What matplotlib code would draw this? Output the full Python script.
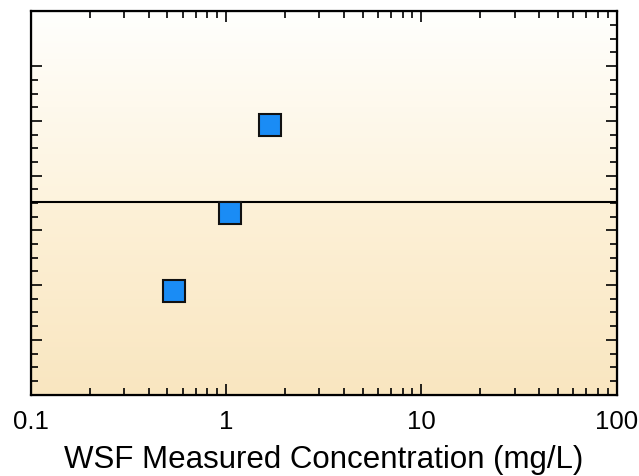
import numpy as np
import matplotlib.pyplot as plt
from matplotlib.colors import LinearSegmentedColormap

plt.rcParams['font.family'] = ['Liberation Sans', 'DejaVu Sans']

# data (y has no labels, so plain units of major ticks)
conc = [0.54, 1.04, 1.68]
resp = [1.90, 3.31, 4.93]
ref_line = 3.52
xlim = (0.1, 100)
ylim = (0, 7)
xtick_vals = [0.1, 1, 10, 100]
xtick_labels = ['0.1', '1', '10', '100']

fig = plt.figure(figsize=(6.39, 4.76), dpi=100)
ax = fig.add_axes([0.0485, 0.171, 0.9165, 0.805])
ax.set_xscale('log')
ax.set_xlim(*xlim)
ax.set_ylim(*ylim)

# background gradients, split at the reference line
frac = (ref_line - ylim[0]) / (ylim[1] - ylim[0])
top_cmap = LinearSegmentedColormap.from_list('top', ['#fdf3dd', '#fffffd'])
bot_cmap = LinearSegmentedColormap.from_list('bot', ['#f9e6c0', '#fdf1d8'])
grad = np.linspace(0, 1, 256).reshape(-1, 1)
ax.imshow(grad, cmap=top_cmap, aspect='auto', origin='lower',
          extent=[0, 1, frac, 1], transform=ax.transAxes, zorder=0)
ax.imshow(grad, cmap=bot_cmap, aspect='auto', origin='lower',
          extent=[0, 1, 0, frac], transform=ax.transAxes, zorder=0)

ax.axhline(ref_line, color='black', lw=1.5, zorder=2)
ax.plot(conc, resp, linestyle='none', marker='s', markersize=15.5,
        markerfacecolor='#1a8cf5', markeredgecolor='#111111',
        markeredgewidth=1.5, zorder=3)

for s in ax.spines.values():
    s.set_linewidth(1.6)

ax.set_xticks(xtick_vals)
ax.set_xticklabels(xtick_labels)
ax.tick_params(axis='x', which='major', direction='in', length=8, width=1.2,
               top=True, labelsize=18.5, pad=11)
ax.tick_params(axis='x', which='minor', direction='in', length=5, width=1.2,
               top=True)

# left y ticks stop at 6, right side goes all the way
ax.set_yticks(np.arange(0, 7, 1))
ax.set_yticks(np.arange(0, 6.01, 0.25), minor=True)
ax.tick_params(axis='y', which='major', direction='in', length=8, width=1.2,
               labelleft=False)
ax.tick_params(axis='y', which='minor', direction='in', length=5, width=1.2)

ax2 = ax.twinx()
ax2.set_ylim(*ylim)
ax2.set_yticks(np.arange(0, 7, 1))
ax2.set_yticks(np.arange(0, 7.01, 0.25), minor=True)
ax2.tick_params(axis='y', which='major', direction='in', length=8, width=1.2,
                labelright=False)
ax2.tick_params(axis='y', which='minor', direction='in', length=5, width=1.2)

ax.set_xlabel('WSF Measured Concentration (mg/L)', fontsize=22.5, labelpad=8)

fig.savefig('out.png', dpi=100)
